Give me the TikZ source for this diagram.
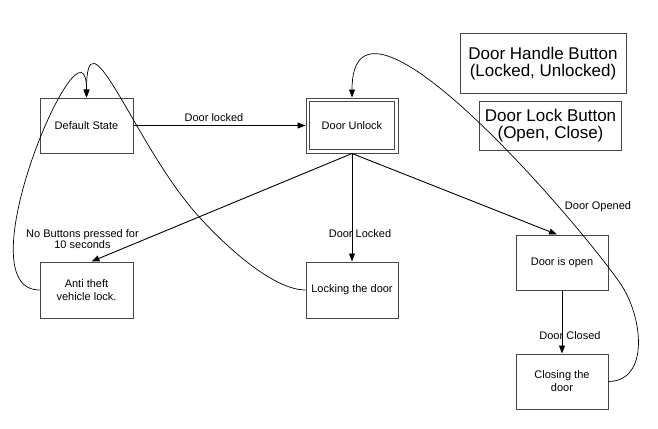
\documentclass[tikz,border=0pt]{standalone}
\usepackage{fontspec}
\setmainfont{Liberation Sans}
\usetikzlibrary{arrows.meta}
\tikzset{
  state/.style={draw=black!72, line width=1pt, minimum width=92pt, minimum height=55pt, inner sep=0pt, align=center, font=\fontsize{11}{13}\selectfont},
  bigbox/.style={draw=black!72, line width=1pt, inner sep=0pt, align=center, font=\fontsize{17}{17.6}\selectfont},
  lbl/.style={inner sep=0pt, align=center, font=\fontsize{11}{11}\selectfont},
  conn/.style={line width=0.9pt, -{Triangle[length=8pt,width=6pt]}},
  curve/.style={line width=0.7pt, -{Triangle[length=8pt,width=6pt]}}
}
\begin{document}
\begin{tikzpicture}[x=1pt,y=-1pt]
\useasboundingbox (0,0) rectangle (658,428);
\node[state, minimum width=93pt] (def) at (86.5,125.5) {Default State};
\node[state] (unlock) at (352,125.5) {Door Unlock};
\draw[draw=black!72, line width=1pt] ([xshift=4pt,yshift=-4pt]unlock.north west) rectangle ([xshift=-4pt,yshift=4pt]unlock.south east);
\node[state, minimum width=93pt, minimum height=56pt] (anti) at (86.5,290) {Anti theft\\vehicle lock.};
\node[state, minimum height=56pt] (lockd) at (352,290) {Locking the door};
\node[state] (open) at (562,262.5) {Door is open};
\node[state] (closing) at (562,381.5) {Closing the\\door};
\node[bigbox, minimum width=166pt, minimum height=59pt] (handle) at (543,63.5) {Door Handle Button\\(Locked, Unlocked)};
\node[bigbox, minimum width=142pt, minimum height=49pt] (lockbtn) at (550.5,125.5) {Door Lock Button\\(Open, Close)};

\draw[conn] (def.east) -- (unlock.west);
\draw[conn] (unlock.south) -- ([xshift=5pt]anti.north);
\draw[conn] (unlock.south) -- (lockd.north);
\draw[conn] (unlock.south) -- ([xshift=-5pt]open.north);
\draw[conn] (open.south) -- (closing.north);

\draw[curve] (anti.west) .. controls (-40,290) and (86.5,0) .. (def.north);
\draw[curve] (lockd.west) .. controls (266,290) and (203,224) .. (185,200) .. controls (130,130) and (86.5,10) .. (def.north);
\draw[curve] (closing.east) .. controls (650,381) and (643,316) .. (620,283) .. controls (574,217) and (352,-40) .. (unlock.north);

\node[lbl] (l1) at (214,117.5) {Door locked};
\node[lbl] (l2) at (82.5,239) {No Buttons pressed for\\10 seconds};
\node[lbl] (l3) at (360,234) {Door Locked};
\node[lbl] (l4) at (598,207) {Door Opened};
\node[lbl] (l5) at (570,335.5) {Door Closed};
\end{tikzpicture}
\end{document}
